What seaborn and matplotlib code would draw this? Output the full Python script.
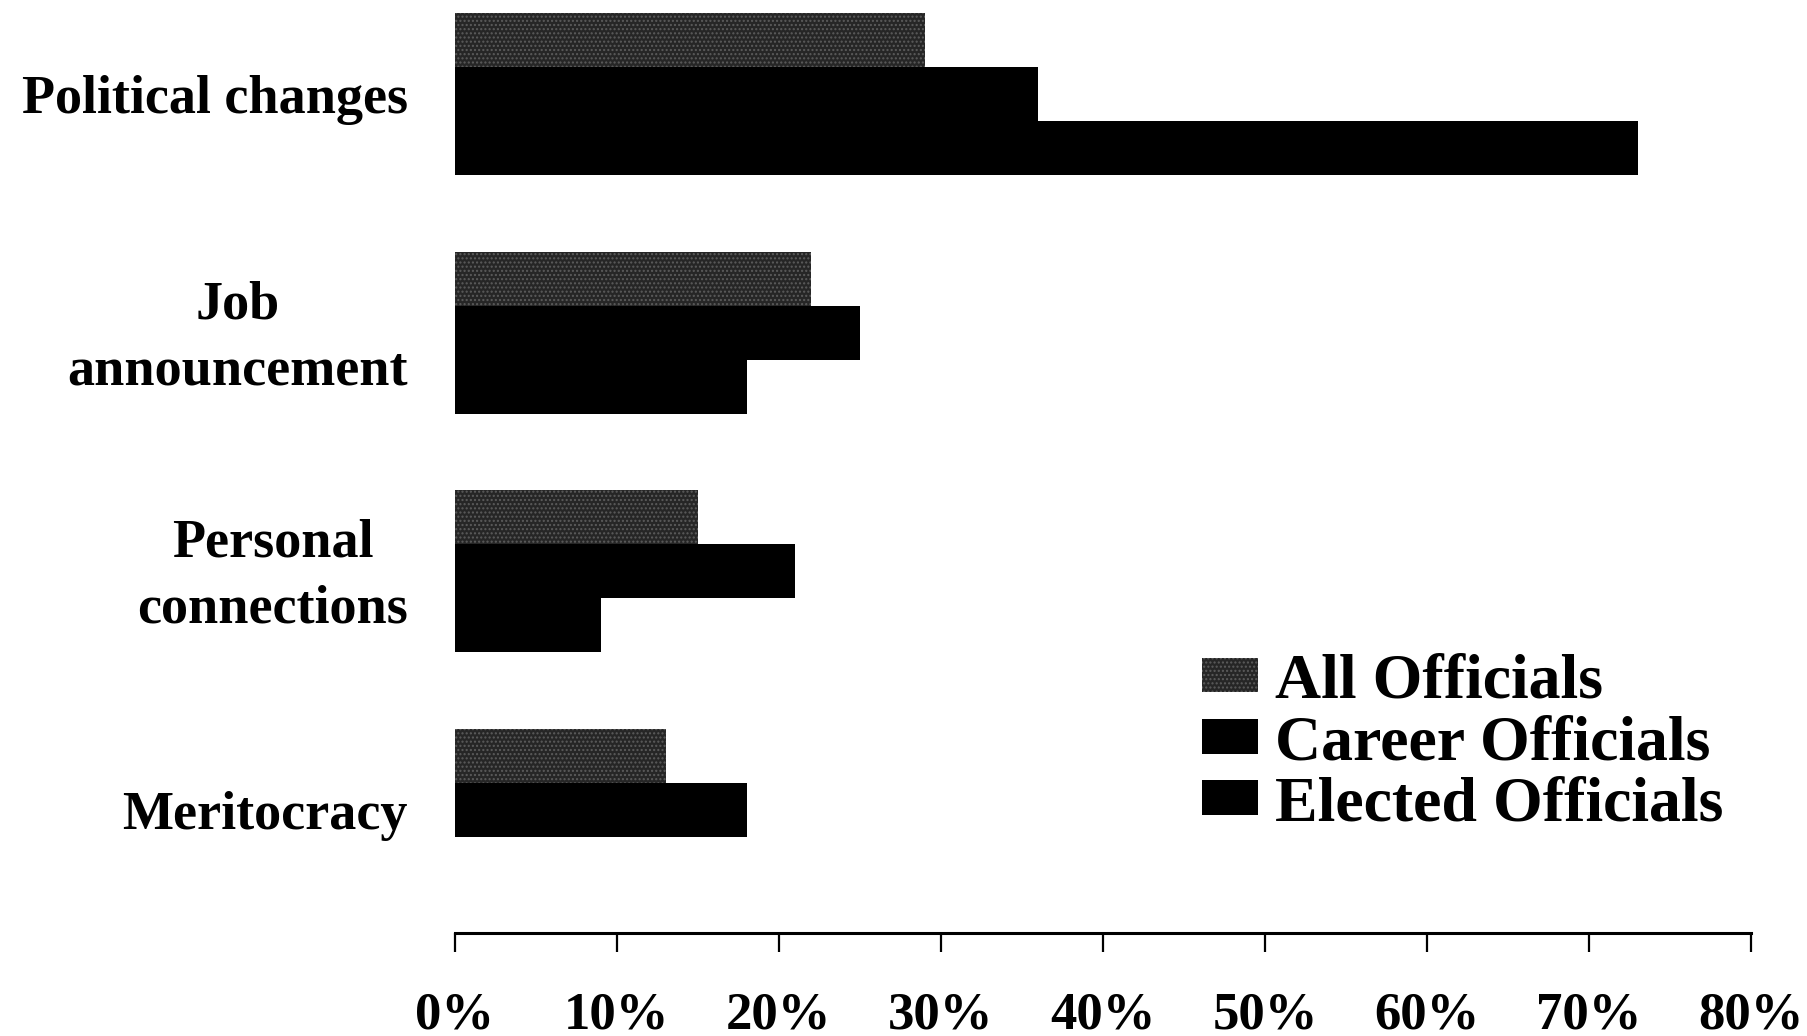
import matplotlib
matplotlib.use("Agg")
import matplotlib.pyplot as plt
import matplotlib.transforms as mtransforms
import seaborn as sns
import pandas as pd

# Survey shares (%) by reason and respondent group
categories = ["Political changes", "Job\nannouncement", "Personal\nconnections", "Meritocracy"]
groups = ["All Officials", "Career Officials", "Elected Officials"]
all_officials = [29, 22, 15, 13]
career_officials = [36, 25, 21, 18]
elected_officials = [73, 18, 9, 0]
x_ticks = [0, 10, 20, 30, 40, 50, 60, 70, 80]

rows = []
for g, vals in zip(groups, [all_officials, career_officials, elected_officials]):
    for c, v in zip(categories, vals):
        rows.append({"category": c, "group": g, "value": v})
df = pd.DataFrame(rows)

sns.set_theme(style="white")
plt.rcParams["font.family"] = ["Liberation Serif", "DejaVu Serif"]
plt.rcParams["font.weight"] = "bold"
plt.rcParams["text.color"] = "black"
plt.rcParams["xtick.color"] = "black"
plt.rcParams["ytick.color"] = "black"
plt.rcParams["xtick.labelcolor"] = "black"
plt.rcParams["ytick.labelcolor"] = "black"

fig = plt.figure(figsize=(18.07, 10.36), dpi=100)
ax = fig.add_axes([455 / 1807, 0.0994, (1751 - 455) / 1807, 0.9006])

sns.barplot(
    data=df, x="value", y="category", hue="group",
    order=categories, hue_order=groups,
    palette=["#262626", "#000000", "#000000"],
    width=0.68, orient="h", linewidth=0, ax=ax, legend=False,
)

# stippled texture on the first series
for p in ax.containers[0].patches:
    p.set_hatch("....")
    p.set_edgecolor("#5c5c5c")
    p.set_linewidth(0)

ax.set_xlim(0, 80)
ax.set_ylim(3.517, -0.396)
ax.set_xticks(x_ticks)
ax.set_xticklabels([f"{t}%" for t in x_ticks], fontsize=38, fontweight="bold", color="black")
ax.set_yticks(range(len(categories)))
ax.set_yticklabels(categories, fontsize=39, fontweight="bold", color="black",
                   multialignment="center", linespacing=1.42)
ax.set_xlabel("")
ax.set_ylabel("")

for s in ["top", "right", "left"]:
    ax.spines[s].set_visible(False)
ax.spines["bottom"].set_linewidth(2.2)
ax.spines["bottom"].set_color("black")
ax.tick_params(axis="x", direction="out", length=14, width=1.6, color="black", pad=28, bottom=True)
ax.tick_params(axis="y", length=0, pad=34)

# nudge the two-line category labels slightly upward
lift = mtransforms.ScaledTranslation(0, 6 / 72, fig.dpi_scale_trans)
for lbl in ax.get_yticklabels():
    if "\n" in lbl.get_text():
        lbl.set_transform(lbl.get_transform() + lift)

leg = ax.legend(
    ax.containers, groups,
    loc="upper left", bbox_to_anchor=(1202 / 1807, 1 - 654 / 1036),
    bbox_transform=fig.transFigure,
    frameon=False, borderpad=0, borderaxespad=0,
    handlelength=0.88, handleheight=0.45, handletextpad=0.27,
    labelspacing=0.05,
    prop={"family": "Liberation Serif", "weight": "bold", "size": 46},
)
for t in leg.get_texts():
    t.set_color("black")

fig.savefig("out.png", dpi=100, facecolor="white")
